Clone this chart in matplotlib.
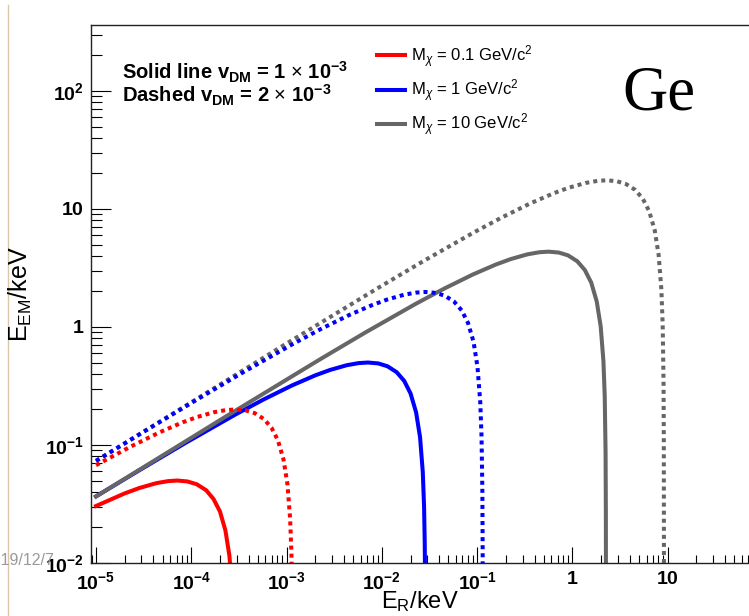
import matplotlib
matplotlib.use("Agg")
import matplotlib.pyplot as plt
from matplotlib.lines import Line2D
from matplotlib.ticker import FixedLocator, LogLocator, NullFormatter

plt.rcParams['font.family'] = ['Liberation Sans', 'DejaVu Sans']
plt.rcParams['mathtext.fontset'] = 'custom'
plt.rcParams['mathtext.rm'] = 'Liberation Sans'
plt.rcParams['mathtext.it'] = 'Liberation Sans:italic'
plt.rcParams['mathtext.bf'] = 'Liberation Sans:bold'

# maximum EM energy vs nuclear recoil energy in Ge, keV on both axes
mass_labels = [r"M$_{\chi}$ = 0.1 GeV/c$^{2}$",
               r"M$_{\chi}$ = 1 GeV/c$^{2}$",
               r"M$_{\chi}$ = 10 GeV/c$^{2}$"]
colors = ["#ff0000", "#0000ff", "#666666"]

# v_DM = 1e-3
er_m01_v1 = [1.0e-5, 2.0e-5, 2.85e-5, 4.3e-5, 5.7e-5, 7.1e-5, 9.1e-5, 1.14e-4, 1.43e-4,
             1.71e-4, 2.0e-4, 2.28e-4, 2.51e-4, 2.68e-4, 2.76e-4, 2.85e-4]
em_m01_v1 = [0.0304, 0.0389, 0.0432, 0.0475, 0.0494, 0.0500, 0.0491, 0.0465, 0.0414,
             0.0349, 0.0273, 0.0189, 0.0116, 0.0059, 0.0030, 0.0]

er_m1_v1 = [1.0e-5, 2.86e-5, 8.58e-5, 2.86e-4, 5.72e-4, 1.144e-3, 2.0e-3, 2.86e-3, 4.29e-3,
            5.72e-3, 7.15e-3, 9.15e-3, 1.144e-2, 1.43e-2, 1.716e-2, 2.0e-2, 2.288e-2,
            2.517e-2, 2.688e-2, 2.774e-2, 2.817e-2, 2.831e-2, 2.846e-2, 2.86e-2]
em_m1_v1 = [0.0367, 0.0612, 0.1035, 0.180, 0.2428, 0.320, 0.3892, 0.4325, 0.4746,
            0.4944, 0.500, 0.4914, 0.4649, 0.4142, 0.3492, 0.2733, 0.1889,
            0.1162, 0.0591, 0.0298, 0.0149, 0.0100, 0.0050, 0.0]

er_m10_v1 = [1.0e-5, 2.25e-4, 2.25e-3, 6.75e-3, 2.25e-2, 4.5e-2, 9.0e-2, 0.1575, 0.225,
             0.3375, 0.45, 0.5625, 0.72, 0.9, 1.125, 1.35, 1.575, 1.8, 1.98, 2.115,
             2.1825, 2.2275, 2.243, 2.249, 2.25]
em_m10_v1 = [0.0366, 0.1723, 0.5328, 0.9008, 1.566, 2.113, 2.784, 3.386, 3.762,
             4.129, 4.301, 4.35, 4.275, 4.045, 3.604, 3.038, 2.378, 1.643, 1.011, 0.5139,
             0.2590, 0.0867, 0.0261, 0.00435, 0.0]

# v_DM = 2e-3
er_m01_v2 = [1.0e-5, 2.32e-5, 4.64e-5, 8.12e-5, 1.16e-4, 1.74e-4, 2.32e-4, 2.9e-4, 3.71e-4,
             4.64e-4, 5.8e-4, 6.96e-4, 8.12e-4, 9.28e-4, 1.021e-3, 1.09e-3, 1.125e-3,
             1.148e-3, 1.16e-3]
em_m01_v2 = [0.0674, 0.0971, 0.128, 0.1557, 0.1730, 0.1898, 0.1978, 0.200, 0.1966,
             0.1860, 0.1657, 0.1397, 0.1093, 0.0755, 0.0465, 0.0236, 0.0119,
             0.0040, 0.0]

er_m1_v2 = [1.0e-5, 3.44e-5, 1.146e-4, 3.44e-4, 1.146e-3, 2.29e-3, 4.58e-3, 8.02e-3, 1.146e-2,
            1.72e-2, 2.29e-2, 2.865e-2, 3.67e-2, 4.58e-2, 5.73e-2, 6.88e-2, 8.02e-2,
            9.17e-2, 0.1008, 0.1077, 0.1112, 0.1135, 0.1143, 0.1146]
em_m1_v2 = [0.0733, 0.1348, 0.2425, 0.410, 0.7128, 0.9616, 1.2672, 1.5411, 1.7125,
            1.8794, 1.9579, 1.98, 1.9458, 1.841, 1.6403, 1.3828, 1.0823,
            0.7478, 0.460, 0.2339, 0.1179, 0.0395, 0.0119, 0.0]

er_m10_v2 = [1.0e-5, 9.13e-4, 9.13e-3, 2.739e-2, 9.13e-2, 0.1826, 0.3652, 0.6391, 0.913,
             1.3695, 1.826, 2.2825, 2.922, 3.652, 4.565, 5.478, 6.391, 7.304, 8.034,
             8.582, 8.856, 9.039, 9.103, 9.125, 9.13]
em_m10_v2 = [0.0732, 0.693, 2.143, 3.624, 6.30, 8.499, 11.2, 13.62, 15.14,
             16.61, 17.30, 17.5, 17.20, 16.27, 14.50, 12.22, 9.566, 6.610, 4.066,
             2.067, 1.042, 0.349, 0.105, 0.0175, 0.0]

x_ticks = [1e-5, 1e-4, 1e-3, 1e-2, 1e-1, 1, 10]
x_ticklabels = [r"$\mathbf{10^{-5}}$", r"$\mathbf{10^{-4}}$", r"$\mathbf{10^{-3}}$",
                r"$\mathbf{10^{-2}}$", r"$\mathbf{10^{-1}}$", r"$\mathbf{1}$",
                r"$\mathbf{10}$"]
y_ticks = [1e-2, 1e-1, 1, 10, 100]
y_ticklabels = [r"$\mathbf{10^{-2}}$", r"$\mathbf{10^{-1}}$", r"$\mathbf{1}$",
                r"$\mathbf{10}$", r"$\mathbf{10^{2}}$"]

W, H = 749, 616
fig = plt.figure(figsize=(W / 100, H / 100), dpi=100)
# frame runs past the right edge of the page
ax = fig.add_axes([91 / W, 53 / H, 672 / W, 538.5 / H])
ax.set_xscale('log')
ax.set_yscale('log')
ax.set_xlim(8.86e-6, 100)
ax.set_ylim(1e-2, 366)

lw = 2.9
dot = dict(linestyle=(0, (1, 1)), dash_capstyle='butt')
ax.plot(er_m1_v1, em_m1_v1, color=colors[1], lw=lw, label=mass_labels[1])
ax.plot(er_m10_v1, em_m10_v1, color=colors[2], lw=lw, label=mass_labels[2])
ax.plot(er_m10_v2, em_m10_v2, color=colors[2], lw=lw, **dot)
ax.plot(er_m1_v2, em_m1_v2, color=colors[1], lw=lw, **dot)
ax.plot(er_m01_v2, em_m01_v2, color=colors[0], lw=lw, **dot)
ax.plot(er_m01_v1, em_m01_v1, color=colors[0], lw=lw, label=mass_labels[0])

ax.xaxis.set_major_locator(FixedLocator(x_ticks))
ax.set_xticklabels(x_ticklabels)
ax.yaxis.set_major_locator(FixedLocator(y_ticks))
ax.set_yticklabels(y_ticklabels)
for axis in (ax.xaxis, ax.yaxis):
    axis.set_minor_locator(LogLocator(base=10, subs=range(2, 10), numticks=20))
    axis.set_minor_formatter(NullFormatter())

ax.tick_params(axis='x', which='major', direction='in', length=11.5, width=0.8,
               labelsize=14, pad=6)
ax.tick_params(axis='x', which='minor', direction='in', length=5.8, width=0.8)
ax.tick_params(axis='y', which='major', direction='in', length=14.4, width=0.8,
               labelsize=14, pad=5)
ax.tick_params(axis='y', which='minor', direction='in', length=7.7, width=0.8)
for s in ax.spines.values():
    s.set_linewidth(1.0)
    s.set_color('#222222')

fig.text(20 / W, 1 - 294 / H, r"E$_{\rm EM}$/keV", rotation=90, fontsize=18,
         ha='center', va='center')
fig.text(420 / W, 1 - 608 / H, r"E$_{\rm R}$/keV", fontsize=17,
         ha='center', va='baseline')

fig.text(122 / W, 1 - 79.5 / H,
         r"Solid line v$_{\mathbf{DM}}$ = 1 $\times$ 10$^{\mathbf{-3}}$",
         fontsize=14.5, fontweight='bold', va='baseline')
fig.text(122 / W, 1 - 102.5 / H,
         r"Dashed v$_{\mathbf{DM}}$ = 2 $\times$ 10$^{\mathbf{-3}}$",
         fontsize=14.5, fontweight='bold', va='baseline')

handles, labels = ax.get_legend_handles_labels()
order = [labels.index(m) for m in mass_labels]
ax.legend([handles[i] for i in order], [labels[i] for i in order],
          loc='upper left', bbox_to_anchor=(377 / W, 1 - 43 / H),
          bbox_transform=fig.transFigure, frameon=False, fontsize=12,
          handlelength=1.65, handletextpad=0.4, labelspacing=0.47,
          borderaxespad=0, borderpad=0)

fig.text(659 / W, 1 - 109 / H, "Ge", family='Liberation Serif', fontsize=45,
         ha='center', va='baseline')

# slide footer leftovers
fig.text(54 / W, 1 - 565 / H, "2019/12/7", fontsize=11.5, color='#9a9a9a',
         family=['Liberation Sans'], ha='right', va='baseline')
fig.add_artist(Line2D([8.3 / W, 8.3 / W], [0, 1 - 5 / H], transform=fig.transFigure,
                      color='#dcc8a8', lw=1.0))

fig.savefig("out.png", dpi=100)
